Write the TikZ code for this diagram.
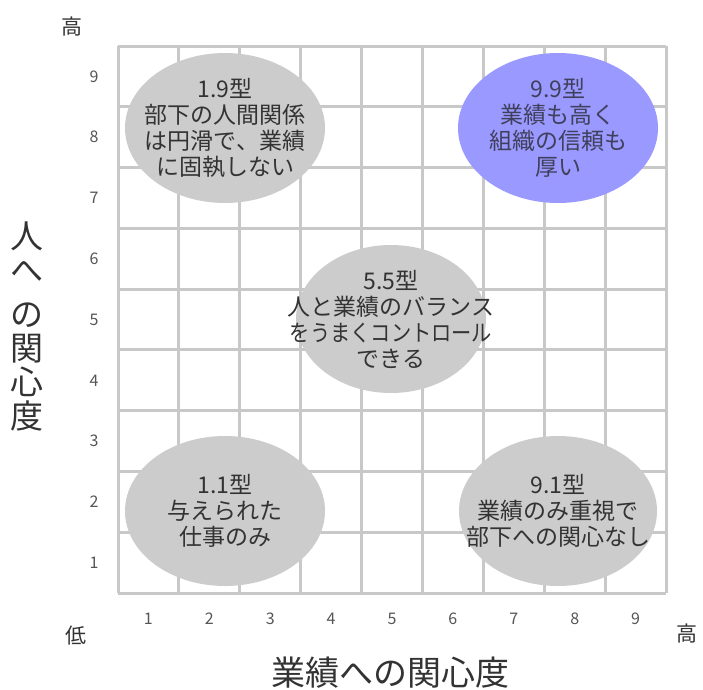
\documentclass[tikz,border=0pt]{standalone}
\usepackage{fontspec}
\setmainfont{Noto Sans CJK JP}
\usetikzlibrary{shapes.geometric}
\definecolor{gridgray}{HTML}{C8C8C8}
\definecolor{ellgray}{HTML}{CCCCCC}
\definecolor{ellblue}{HTML}{9999FF}
\definecolor{txtdark}{HTML}{333333}
\definecolor{txtblue}{HTML}{40405C}
\definecolor{numgray}{HTML}{555555}
\begin{document}
\begin{tikzpicture}[x=1pt,y=-1pt,
  gridline/.style={draw=gridgray,line width=3pt},
  typeell/.style={ellipse,fill=ellgray,inner sep=0pt,minimum width=200pt,minimum height=150pt},
  typetext/.style={text=txtdark,align=center,inner sep=0pt,font=\fontsize{23}{26}\selectfont},
  axisnum/.style={text=numgray,inner sep=0pt,font=\fontsize{16}{18}\selectfont},
  endlabel/.style={text=txtdark,inner sep=0pt,font=\fontsize{21}{22}\selectfont},
  axistitle/.style={text=txtdark,inner sep=0pt,align=center}]
\useasboundingbox (0,0) rectangle (703,689);
\fill[white] (0,0) rectangle (703,689);
% grid
\foreach \i in {0,...,9} {
  \draw[gridline] ({118+60.9*\i},46) -- ({118+60.9*\i},593);
  \draw[gridline] (118,{46+60.78*\i}) -- (666,{46+60.78*\i});
}
% ellipses
\node[typeell] (e19) at (225,128) {};
\node[typeell,fill=ellblue] (e99) at (558,128) {};
\node[typeell,minimum width=190pt,minimum height=148pt] (e55) at (391,319) {};
\node[typeell] (e11) at (225,511) {};
\node[typeell,minimum width=198pt] (e91) at (558,511) {};
% texts
\node[typetext] (t19) at (e19.center) {1.9型\\部下の人間関係\\は円滑で、業績\\に固執しない};
\node[typetext,text=txtblue] (t99) at (e99.center) {9.9型\\業績も高く\\組織の信頼も\\厚い};
\node[typetext] (t55) at (e55.center) {5.5型\\人と業績のバランス\\\scalebox{0.88}[1]{をうまくコントロール}\\できる};
\node[typetext] (t11) at (e11.center) {1.1型\\与えられた\\仕事のみ};
\node[typetext] (t91) at (e91.center) {9.1型\\業績のみ重視で\\部下への関心なし};
% axis numbers
\foreach \k in {1,...,9} {
  \node[axisnum] (y\k) at (94,{46+60.78*(9-\k)+30.4}) {\k};
  \node[axisnum] (x\k) at ({118+60.9*(\k-1)+30.4},619) {\k};
}
% end labels
\node[endlabel] (hiY) at (72,27) {高};
\node[endlabel] (lo) at (76,636) {低};
\node[endlabel] (hiX) at (687,633) {高};
% axis titles
\node[axistitle,font=\fontsize{33}{34}\selectfont] (ytitle) at (27,326) {人\\へ\\[10pt]の\\関\\心\\度};
\node[axistitle,font=\fontsize{34}{36}\selectfont] (xtitle) at (390,673) {業績への関心度};
\end{tikzpicture}
\end{document}
